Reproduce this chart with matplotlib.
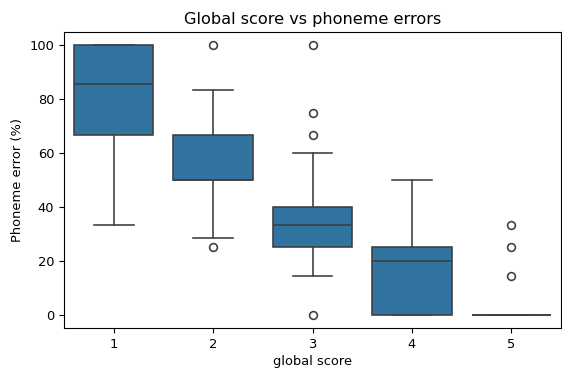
import matplotlib
matplotlib.use("Agg")
import matplotlib.pyplot as plt

scores = ["1", "2", "3", "4", "5"]
q1 = [66.67, 50.0, 25.0, 0.0, 0.0]
med = [85.71, 50.0, 33.33, 20.0, 0.0]
q3 = [100.0, 66.67, 40.0, 25.0, 0.0]
whislo = [33.33, 28.57, 14.29, 0.0, 0.0]
whishi = [100.0, 83.33, 60.0, 50.0, 0.0]
fliers = [
    [],
    [100.0, 25.0],
    [100.0, 75.0, 66.67, 0.0],
    [],
    [33.33, 25.0, 14.29],
]

stats = []
for i, s in enumerate(scores):
    stats.append({
        "label": s, "q1": q1[i], "med": med[i], "q3": q3[i],
        "whislo": whislo[i], "whishi": whishi[i], "fliers": fliers[i],
    })

plt.rcParams["font.size"] = 9.4

line_col = "#3f3f3f"
lw = 1.17
fig, ax = plt.subplots(figsize=(5.62, 3.69), dpi=100)
fig.subplots_adjust(left=64 / 562, right=561 / 562,
                    top=1 - 32 / 369, bottom=1 - 328 / 369)
ax.bxp(
    stats,
    positions=range(len(scores)),
    widths=0.8,
    patch_artist=True,
    boxprops=dict(facecolor="#3274a1", edgecolor=line_col, linewidth=lw),
    medianprops=dict(color=line_col, linewidth=lw),
    whiskerprops=dict(color=line_col, linewidth=lw),
    capprops=dict(color=line_col, linewidth=lw),
    flierprops=dict(marker="o", markerfacecolor="none", markeredgewidth=lw,
                    markeredgecolor=line_col, markersize=5.6, linewidth=0),
    capwidths=0.4,
)
ax.set_xlim(-0.5, 4.5)
ax.set_ylim(-5, 105)
ax.set_xlabel("global score", labelpad=3)
ax.set_ylabel("Phoneme error (%)")
ax.set_title("Global score vs phoneme errors", fontsize=11.6, pad=5.5)
plt.savefig("out.png", dpi=100)
